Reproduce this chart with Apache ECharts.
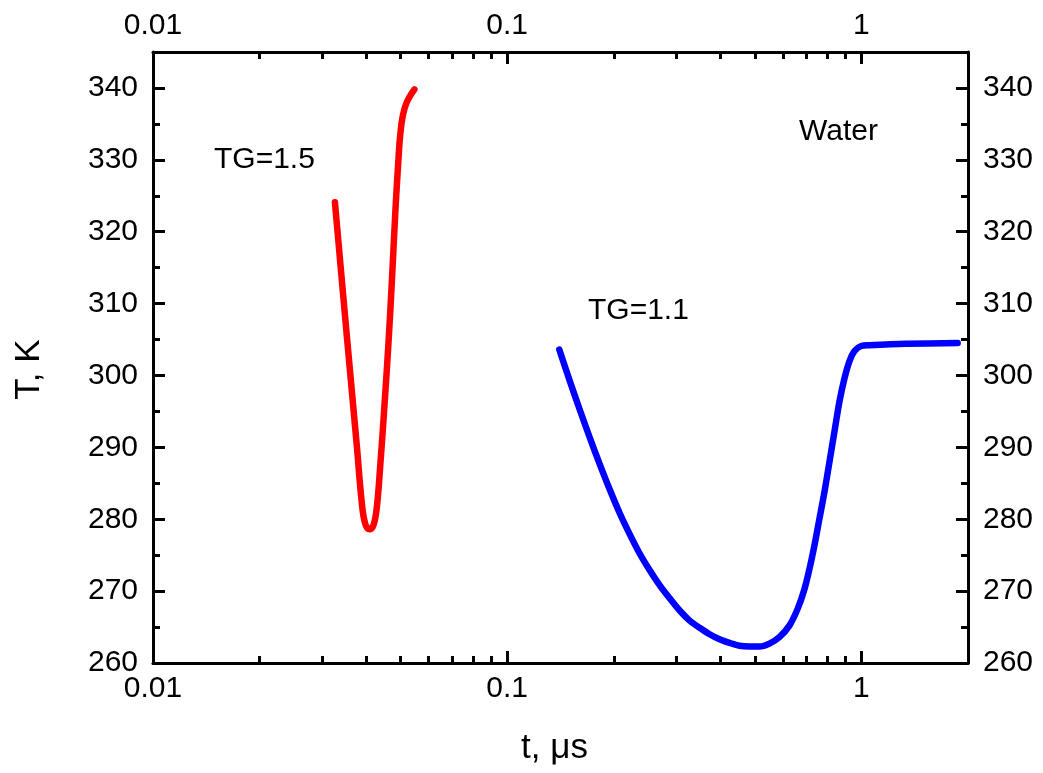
<!DOCTYPE html>
<html><head><meta charset="utf-8">
<script src="https://cdn.jsdelivr.net/npm/echarts@6/dist/echarts.min.js"></script>
<style>html,body{margin:0;padding:0;background:#fff}#c{width:1043px;height:773px}</style>
</head><body><div id="c"></div>
<script>
// TG = 1.5 (red)
const redTime = [0.03263, 0.03527, 0.03764, 0.03888, 0.03973, 0.04086, 0.04194, 0.04285, 0.04379, 0.04494, 0.04622, 0.04733, 0.04837, 0.04932, 0.04985, 0.05072, 0.05205, 0.05471];
const redTemp = [324.1, 305.4, 290.1, 282.2, 279.4, 278.6, 279.2, 281.7, 287.3, 295.2, 304.5, 313.8, 323.1, 330.1, 333.3, 336.1, 338.0, 339.8];
// TG = 1.1 (blue)
const blueTime = [0.1403, 0.1503, 0.1604, 0.1712, 0.1827, 0.1949, 0.2080, 0.2219, 0.2368, 0.2526, 0.2696, 0.2876, 0.3069, 0.3274, 0.3494, 0.3728, 0.3977, 0.4244, 0.4528, 0.4831, 0.5155, 0.5500, 0.5868, 0.6262, 0.6616, 0.6909, 0.7137, 0.7373, 0.7616, 0.7867, 0.8127, 0.8395, 0.8673, 0.8959, 0.9256, 0.9562, 0.9985, 1.054, 1.337, 1.87];
const blueTemp = [303.6, 299.2, 295.2, 291.3, 287.6, 284.1, 280.8, 277.9, 275.2, 272.9, 270.8, 269.0, 267.3, 265.9, 264.9, 264.0, 263.3, 262.8, 262.4, 262.3, 262.3, 262.7, 263.6, 265.2, 267.6, 270.3, 273.1, 276.4, 280.1, 283.8, 288.0, 292.2, 296.4, 299.6, 302.0, 303.4, 304.1, 304.2, 304.4, 304.5];
const xMajorTicks = [0.01, 0.1, 1];
const xMinorTicks = [0.02, 0.03, 0.04, 0.05, 0.06, 0.07, 0.08, 0.09, 0.2, 0.3, 0.4, 0.5, 0.6, 0.7, 0.8, 0.9];
const yMajorTicks = [260, 270, 280, 290, 300, 310, 320, 330, 340];
const yMinorTicks = [265, 275, 285, 295, 305, 315, 325, 335];
const labels = { red: 'TG=1.5', blue: 'TG=1.1', medium: 'Water' };
const xTitle = 't, \u03bcs';
const yTitle = 'T, K';

const FONT = "'Liberation Sans', Arial, sans-serif";
const zip = (a, b) => a.map((v, i) => [v, b[i]]);

function xAx(pos, ticks, len, showLabel, showLine, extra) {
  return Object.assign({
    type: 'log', logBase: 10, min: 0.01, max: 2, position: pos,
    axisLine: { show: showLine, onZero: false, lineStyle: { color: '#000', width: 3 } },
    axisTick: { show: true, inside: true, length: len, customValues: ticks, lineStyle: { color: '#000', width: 3 } },
    axisLabel: { show: showLabel, customValues: ticks, margin: 11, fontSize: 30, color: '#000', fontFamily: FONT, formatter: v => String(v) },
    splitLine: { show: false }, minorTick: { show: false }, minorSplitLine: { show: false }
  }, extra || {});
}
function yAx(pos, ticks, len, showLabel, showLine, extra) {
  return Object.assign({
    type: 'value', min: 260, max: 345, position: pos,
    axisLine: { show: showLine, onZero: false, lineStyle: { color: '#000', width: 3 } },
    axisTick: { show: true, inside: true, length: len, customValues: ticks, lineStyle: { color: '#000', width: 3 } },
    axisLabel: { show: showLabel, customValues: ticks, margin: 15, fontSize: 30, color: '#000', fontFamily: FONT },
    splitLine: { show: false }, minorTick: { show: false }, minorSplitLine: { show: false }
  }, extra || {});
}

const chart = echarts.init(document.getElementById('c'), null, { renderer: 'canvas' });
chart.setOption({
  animation: false,
  backgroundColor: '#fff',
  grid: { left: 153, right: 75, top: 52, bottom: 110, containLabel: false, outerBoundsMode: 'none' },
  xAxis: [
    xAx('bottom', xMajorTicks, 12, true, true, {
      name: xTitle, nameLocation: 'middle', nameGap: 68,
      nameTextStyle: { fontSize: 35, color: '#000', fontFamily: FONT, padding: [0, 12, 0, 0] }
    }),
    xAx('bottom', xMinorTicks, 7, false, false),
    xAx('top', xMajorTicks, 12, true, true),
    xAx('top', xMinorTicks, 7, false, false)
  ],
  yAxis: [
    yAx('left', yMajorTicks, 12, true, true, {
      name: yTitle, nameLocation: 'middle', nameGap: 106,
      nameTextStyle: { fontSize: 35, color: '#000', fontFamily: FONT, padding: [0, 24, 0, 0] }
    }),
    yAx('left', yMinorTicks, 7, false, false),
    yAx('right', yMajorTicks, 12, true, true),
    yAx('right', yMinorTicks, 7, false, false)
  ],
  series: [
    { name: labels.red, type: 'line', xAxisIndex: 0, yAxisIndex: 0, data: zip(redTime, redTemp),
      showSymbol: false, smooth: 0.4, lineStyle: { color: '#ff0000', width: 6.5, cap: 'round', join: 'round' } },
    { name: labels.blue, type: 'line', xAxisIndex: 0, yAxisIndex: 0, data: zip(blueTime, blueTemp),
      showSymbol: false, smooth: 0.3, lineStyle: { color: '#0000ff', width: 6.5, cap: 'round', join: 'round' } }
  ],
  graphic: [
    { type: 'text', left: 214, top: 145, style: { text: labels.red, font: "30px 'Liberation Sans', Arial, sans-serif", fill: '#000' } },
    { type: 'text', left: 588, top: 296, style: { text: labels.blue, font: "30px 'Liberation Sans', Arial, sans-serif", fill: '#000' } },
    { type: 'text', left: 799, top: 117, style: { text: labels.medium, font: "30px 'Liberation Sans', Arial, sans-serif", fill: '#000' } }
  ]
});
</script>
</body></html>
